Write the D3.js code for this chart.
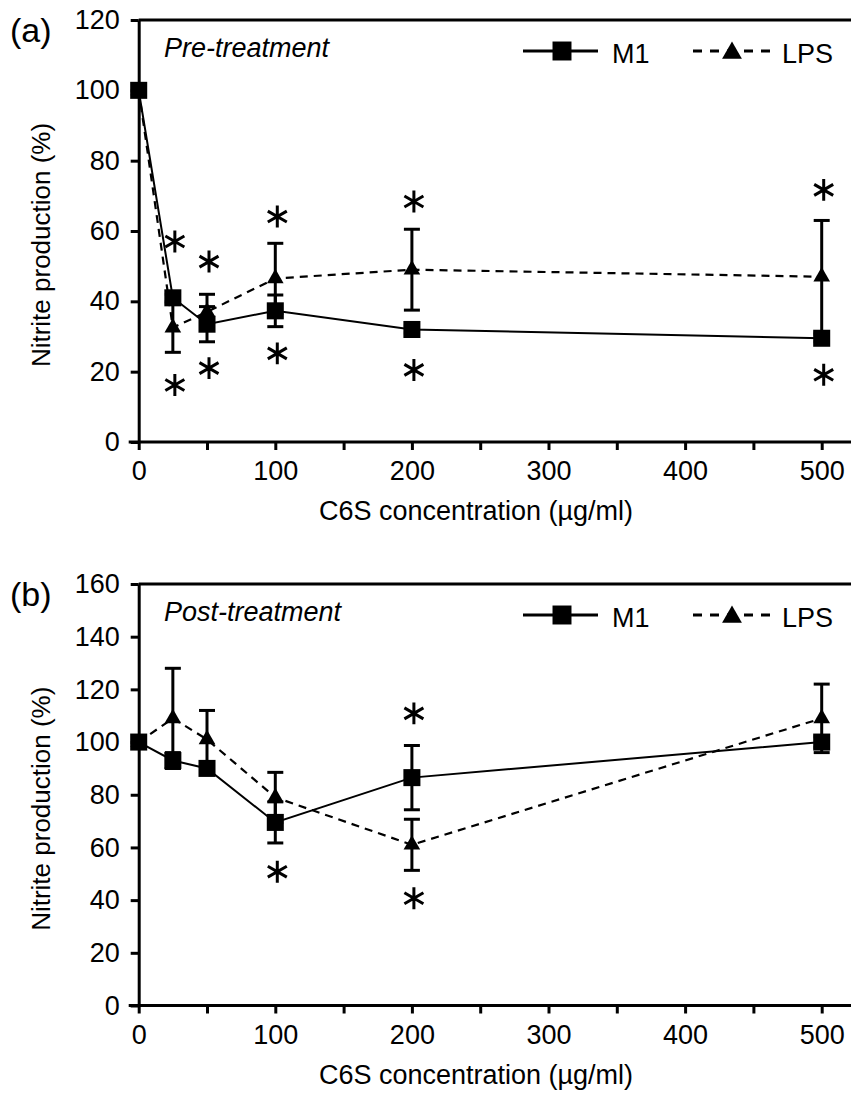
<!DOCTYPE html>
<html>
<head>
<meta charset="utf-8">
<script src="https://cdn.jsdelivr.net/npm/d3@7"></script>
<style>
  body { margin: 0; background: #fff; }
  text { font-family: "Liberation Sans", Arial, sans-serif; fill: #000; }
</style>
</head>
<body>
<div id="chart"></div>
<script>
// concentrations (µg/ml)
const conc = [0, 25, 50, 100, 200, 500];
const xTicks = [0, 50, 100, 150, 200, 250, 300, 350, 400, 450, 500];

// (a) pre-treatment
const preM1 = [100, 41, 33.5, 37.3, 32, 29.5];
const preM1Err = [0, 1, 5, 4.5, 1, 1];
const preLPS = [100, 32.5, 37, 46.5, 49, 47];
const preLPSErr = [0, 7, 5, 10, 11.5, 16];
const preStars = [[25, 57], [25, 16.2], [50, 51.3], [50, 21], [100, 64.1], [100, 25.2],
                  [200, 68.4], [200, 20.5], [500, 71.7], [500, 19.1]];
const preYTicks = [0, 20, 40, 60, 80, 100, 120];

// (b) post-treatment
const postM1 = [100, 93, 90, 69.5, 86.5, 100];
const postM1Err = [0, 3, 1.5, 7.8, 12.2, 2];
const postLPS = [100, 109, 101, 79, 61, 109];
const postLPSErr = [0, 19, 11, 9.5, 9.7, 13];
const postStars = [[100, 50.8], [200, 110.9], [200, 40.7]];
const postYTicks = [0, 20, 40, 60, 80, 100, 120, 140, 160];

const W = 851, H = 1097;
const svg = d3.select("#chart").append("svg")
    .attr("width", W).attr("height", H);

const x = d3.scaleLinear().domain([0, 500]).range([138.7, 821.7]);

function drawPanel(p) {
  const y = d3.scaleLinear().domain([0, p.yMax]).range([p.bottom, p.top]);
  const g = svg.append("g");

  // frame: top line and x axis run to the right edge
  g.append("line").attr("x1", x(0)).attr("x2", W).attr("y1", p.top).attr("y2", p.top)
    .attr("stroke", "#000").attr("stroke-width", 3);
  g.append("line").attr("x1", x(0) - 10).attr("x2", W).attr("y1", p.bottom).attr("y2", p.bottom)
    .attr("stroke", "#000").attr("stroke-width", 3);

  const xAxis = g.append("g").attr("transform", `translate(0,${p.bottom})`)
    .call(d3.axisBottom(x).tickValues(xTicks)
      .tickFormat(d => d % 100 === 0 ? d : "").tickSize(8).tickPadding(11));
  xAxis.select(".domain").remove();
  xAxis.selectAll("line").attr("stroke-width", 3);
  xAxis.selectAll("text").attr("font-size", 27).attr("font-family", "Liberation Sans, Arial, sans-serif");

  const yAxis = g.append("g").attr("transform", `translate(${x(0)},0)`)
    .call(d3.axisLeft(y).tickValues(p.yTicks).tickSize(8).tickPadding(11).tickSizeOuter(0));
  yAxis.select(".domain").attr("stroke-width", 3);
  yAxis.selectAll("line").attr("stroke-width", 3);
  yAxis.selectAll("text").attr("font-size", 27).attr("font-family", "Liberation Sans, Arial, sans-serif");

  // titles
  g.append("text").attr("x", 476).attr("y", p.bottom + 78)
    .attr("text-anchor", "middle").attr("font-size", 27)
    .text("C6S concentration (µg/ml)");
  g.append("text")
    .attr("transform", `translate(50,${(p.top + p.bottom) / 2 + 14}) rotate(-90)`)
    .attr("text-anchor", "middle").attr("font-size", 26)
    .text("Nitrite production (%)");
  g.append("text").attr("x", 10).attr("y", p.top + 22).attr("font-size", 34).text(p.label);
  g.append("text").attr("x", 164).attr("y", p.top + 37).attr("font-size", 27)
    .attr("font-style", "italic").text(p.subtitle);

  const m1 = conc.map((c, i) => ({x: c, v: p.m1[i], e: p.m1Err[i]}));
  const lps = conc.map((c, i) => ({x: c, v: p.lps[i], e: p.lpsErr[i]}));
  const line = d3.line().x(d => x(d.x)).y(d => y(d.v));

  g.append("path").datum(lps).attr("d", line).attr("fill", "none")
    .attr("stroke", "#000").attr("stroke-width", 2.2).attr("stroke-dasharray", "8,6");
  g.append("path").datum(m1).attr("d", line).attr("fill", "none")
    .attr("stroke", "#000").attr("stroke-width", 2);

  // error bars
  const errs = lps.concat(m1).filter(d => d.e > 0);
  const eb = g.selectAll(".eb").data(errs).enter().append("g");
  eb.append("line").attr("x1", d => x(d.x)).attr("x2", d => x(d.x))
    .attr("y1", d => y(d.v - d.e)).attr("y2", d => y(d.v + d.e))
    .attr("stroke", "#000").attr("stroke-width", 3);
  [1, -1].forEach(s => {
    eb.append("line").attr("x1", d => x(d.x) - 8).attr("x2", d => x(d.x) + 8)
      .attr("y1", d => y(d.v + s * d.e)).attr("y2", d => y(d.v + s * d.e))
      .attr("stroke", "#000").attr("stroke-width", 3);
  });

  // markers
  g.selectAll(".tri").data(lps).enter().append("path")
    .attr("d", d3.symbol(d3.symbolTriangle, 120))
    .attr("transform", d => `translate(${x(d.x)},${y(d.v)})`);
  g.selectAll(".sq").data(m1).enter().append("path")
    .attr("d", d3.symbol(d3.symbolSquare, 290))
    .attr("transform", d => `translate(${x(d.x)},${y(d.v)})`);

  // significance asterisks
  g.selectAll(".star").data(p.stars).enter().append("path")
    .attr("d", d3.symbol(d3.symbolAsterisk, 340))
    .attr("transform", d => `translate(${x(d[0]) + 2},${y(d[1])})`)
    .attr("fill", "none").attr("stroke", "#000").attr("stroke-width", 3);

  // legend
  const ly = p.top + 31;
  g.append("line").attr("x1", 523).attr("x2", 598).attr("y1", ly).attr("y2", ly)
    .attr("stroke", "#000").attr("stroke-width", 3);
  g.append("path").attr("d", d3.symbol(d3.symbolSquare, 360))
    .attr("transform", `translate(562,${ly})`);
  g.append("text").attr("x", 612).attr("y", ly + 12).attr("font-size", 27).text("M1");
  g.append("line").attr("x1", 693).attr("x2", 772).attr("y1", ly).attr("y2", ly)
    .attr("stroke", "#000").attr("stroke-width", 3).attr("stroke-dasharray", "9,8");
  g.append("path").attr("d", d3.symbol(d3.symbolTriangle, 170))
    .attr("transform", `translate(732,${ly + 2})`);
  g.append("text").attr("x", 782).attr("y", ly + 12).attr("font-size", 27).text("LPS");
}

drawPanel({top: 20, bottom: 442, yMax: 120, yTicks: preYTicks, label: "(a)",
  subtitle: "Pre-treatment", m1: preM1, m1Err: preM1Err, lps: preLPS, lpsErr: preLPSErr,
  stars: preStars});
drawPanel({top: 584, bottom: 1005.5, yMax: 160, yTicks: postYTicks, label: "(b)",
  subtitle: "Post-treatment", m1: postM1, m1Err: postM1Err, lps: postLPS, lpsErr: postLPSErr,
  stars: postStars});
</script>
</body>
</html>
